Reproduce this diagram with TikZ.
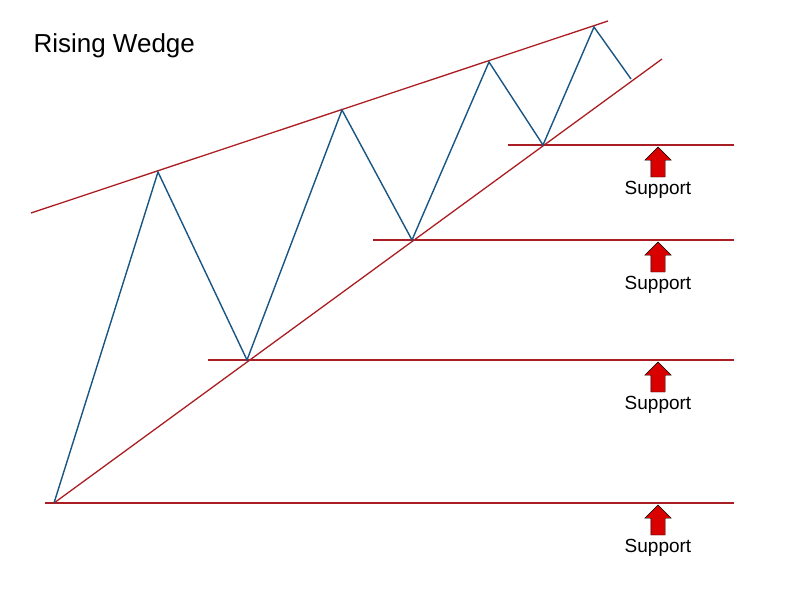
\documentclass[tikz,border=0pt]{standalone}
\usepackage{fontspec}
\setmainfont{Liberation Sans}
\usetikzlibrary{shapes.arrows}
\definecolor{wedgered}{RGB}{170,30,35}
\definecolor{priceblue}{RGB}{25,85,130}
\tikzset{
  trend/.style   = {draw=wedgered, line width=1.3pt},
  price/.style   = {draw=priceblue, line width=1.4pt},
  uparrow/.style = {single arrow, draw=black, fill=red!85!black, rotate=90,
                    minimum height=30pt,
                    single arrow head extend=6pt, single arrow head indent=0pt,
                    inner xsep=0pt, inner ysep=7pt, outer sep=0pt},
  suplabel/.style = {font=\fontsize{19}{21}\selectfont}
}
\begin{document}
\begin{tikzpicture}[x=1pt,y=-1pt]
\useasboundingbox (0,0) rectangle (800,600);
\node[anchor=west, font=\fontsize{26}{30}\selectfont] (title) at (30,46) {Rising Wedge};

% price swings
\coordinate (p0) at (54,503);
\coordinate (p1) at (158,172);
\coordinate (p2) at (247,360);
\coordinate (p3) at (342,110);
\coordinate (p4) at (412,240);
\coordinate (p5) at (489,62);
\coordinate (p6) at (543,145);
\coordinate (p7) at (594,27);
\coordinate (p8) at (631,79);

% wedge lines
\coordinate (u0) at (31,213);
\coordinate (u1) at (608,21);
\coordinate (l1) at (662,59);
\draw[trend] (u0) -- (u1);
\draw[trend] (p0) -- (l1);

% support levels
\coordinate (s1) at (45,503);
\coordinate (s2) at (208,360);
\coordinate (s3) at (373,240);
\coordinate (s4) at (508,145);
\foreach \y/\s in {503/1,360/2,240/3,145/4}
  \draw[trend] (s\s) -- (734,\y);

\draw[price] (p0) -- (p1) -- (p2) -- (p3) -- (p4) -- (p5) -- (p6) -- (p7) -- (p8);

% support arrows and labels
\foreach \y/\s in {505/1,362/2,242/3,147/4} {
  \node[uparrow, anchor=tail] (a\s) at (658,\y+30) {};
  \node[suplabel, anchor=north] (t\s) at (658,\y+31) {Support};
}
\end{tikzpicture}
\end{document}
